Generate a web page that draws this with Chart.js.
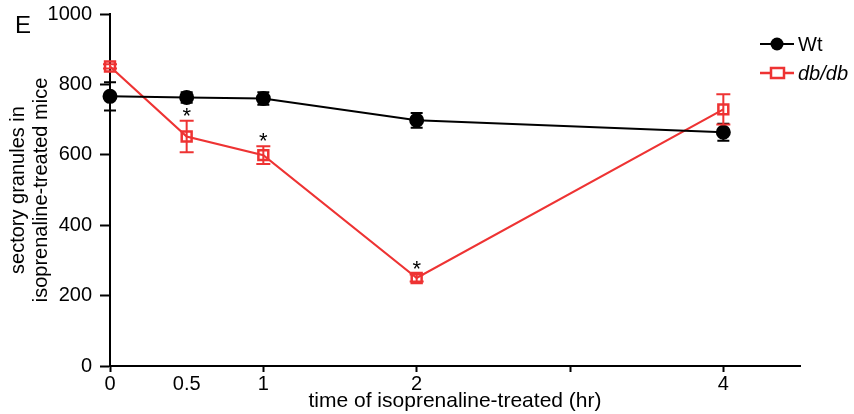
<!DOCTYPE html>
<html>
<head>
<meta charset="utf-8">
<script src="https://cdn.jsdelivr.net/npm/chart.js@4"></script>
<style>
  html, body { margin: 0; padding: 0; background: #fff; }
  #wrap { width: 854px; height: 414px; }
</style>
</head>
<body>
<div id="wrap"><canvas id="myChart" width="854" height="414"></canvas></div>
<script>
// time points (hr)
var times = [0, 0.5, 1, 2, 4];
var wtMean = [766, 763, 760, 698, 664];
var wtErr = [40, 15, 18, 21, 24];
var dbMean = [851, 652, 599, 250, 729];
var dbErr = [6, 45, 25, 10, 43];
var dbSig = [false, true, true, true, false];
var xTicks = [0, 0.5, 1, 2, 3, 4];
var xLabels = ['0', '0.5', '1', '2', '', '4'];

var RED = '#ee3333';
var FONT = 'Liberation Sans, Arial, sans-serif';

function pts(xs, ys) {
  return xs.map(function (x, i) { return { x: x, y: ys[i] }; });
}

var errorBars = {
  id: 'errorBars',
  afterDatasetsDraw: function (chart) {
    var c = chart.ctx, ys = chart.scales.y;
    var sets = [[0, wtErr, 'black', 6], [1, dbErr, RED, 7]];
    sets.forEach(function (s) {
      var meta = chart.getDatasetMeta(s[0]);
      var data = chart.data.datasets[s[0]].data;
      c.save();
      c.strokeStyle = s[2];
      c.lineWidth = 2;
      meta.data.forEach(function (p, i) {
        var top = ys.getPixelForValue(data[i].y + s[1][i]);
        var bot = ys.getPixelForValue(data[i].y - s[1][i]);
        c.beginPath();
        c.moveTo(p.x, top); c.lineTo(p.x, bot);
        c.moveTo(p.x - s[3], top); c.lineTo(p.x + s[3], top);
        c.moveTo(p.x - s[3], bot); c.lineTo(p.x + s[3], bot);
        c.stroke();
      });
      c.restore();
    });
    // significance marks
    var meta = chart.getDatasetMeta(1);
    c.save();
    c.fillStyle = 'black';
    c.font = '22px ' + FONT;
    c.textAlign = 'center';
    meta.data.forEach(function (p, i) {
      if (!dbSig[i]) return;
      var top = ys.getPixelForValue(dbMean[i] + dbErr[i]);
      c.fillText('*', p.x, top + 2);
    });
    c.restore();
  },
  afterDraw: function (chart) {
    var c = chart.ctx;
    c.save();
    // panel letter
    c.fillStyle = 'black';
    c.font = '24px ' + FONT;
    c.textBaseline = 'middle';
    c.fillText('E', 15, 26);
    // legend
    c.lineWidth = 2;
    c.strokeStyle = 'black';
    c.beginPath(); c.moveTo(760, 44); c.lineTo(794, 44); c.stroke();
    c.beginPath(); c.arc(777, 44, 6.5, 0, Math.PI * 2); c.fill();
    c.font = '20px ' + FONT;
    c.fillText('Wt', 798, 45);
    c.strokeStyle = RED;
    c.lineWidth = 2.5;
    c.beginPath(); c.moveTo(760, 73); c.lineTo(794, 73); c.stroke();
    c.fillStyle = '#fff';
    c.fillRect(771, 68, 13, 10);
    c.strokeRect(771, 68, 13, 10);
    c.fillStyle = 'black';
    c.font = 'italic 20px ' + FONT;
    c.fillText('db/db', 798, 74);
    c.restore();
  }
};

var ctx = document.getElementById('myChart').getContext('2d');
var myChart = new Chart(ctx, {
  type: 'scatter',
  data: {
    datasets: [
      {
        label: 'Wt',
        data: pts(times, wtMean),
        showLine: true,
        borderColor: 'black',
        backgroundColor: 'black',
        borderWidth: 2,
        pointRadius: 6.5,
        pointStyle: 'circle',
        clip: false
      },
      {
        label: 'db/db',
        data: pts(times, dbMean),
        showLine: true,
        borderColor: RED,
        backgroundColor: 'rgba(0,0,0,0)',
        borderWidth: 2.2,
        pointRadius: 7,
        pointBorderWidth: 2.5,
        pointStyle: 'rect',
        clip: false
      }
    ]
  },
  options: {
    responsive: false,
    animation: false,
    layout: { padding: { top: 14, right: 54, left: 0, bottom: 0 } },
    plugins: {
      legend: { display: false },
      tooltip: { enabled: false }
    },
    scales: {
      x: {
        type: 'linear',
        min: 0,
        max: 4.5,
        afterBuildTicks: function (s) {
          s.ticks = xTicks.map(function (v) { return { value: v }; });
        },
        afterFit: function (s) { s.height = 48; s.paddingLeft = 0; s.paddingRight = 0; },
        ticks: {
          color: 'black',
          font: { family: FONT, size: 20 },
          padding: 0,
          maxRotation: 0,
          autoSkip: false,
          callback: function (v) { return xLabels[xTicks.indexOf(v)]; }
        },
        grid: {
          drawOnChartArea: false,
          drawTicks: true,
          tickLength: 6,
          tickWidth: 2,
          tickColor: function (c) { return c.tick && c.tick.value === 0.5 ? 'rgba(0,0,0,0)' : 'black'; }
        },
        border: { display: true, color: 'black', width: 2 },
        title: {
          display: true,
          text: 'time of isoprenaline-treated (hr)',
          color: 'black',
          font: { family: FONT, size: 21 },
          padding: { top: -5, bottom: 0 }
        }
      },
      y: {
        min: 0,
        max: 1000,
        afterFit: function (s) { s.width = 110; s.paddingTop = 0; s.paddingBottom = 0; },
        ticks: {
          stepSize: 200,
          color: 'black',
          font: { family: FONT, size: 20 },
          padding: 8,
          callback: function (v) { return String(v); }
        },
        grid: {
          drawOnChartArea: false,
          drawTicks: true,
          tickLength: 10,
          tickWidth: 2,
          tickColor: 'black'
        },
        border: { display: true, color: 'black', width: 2 },
        title: {
          display: true,
          text: ['sectory granules in', 'isoprenaline-treated mice'],
          color: 'black',
          font: { family: FONT, size: 20, lineHeight: 1.15 },
          padding: { top: 7, bottom: 0 }
        }
      }
    }
  },
  plugins: [errorBars]
});
</script>
</body>
</html>
